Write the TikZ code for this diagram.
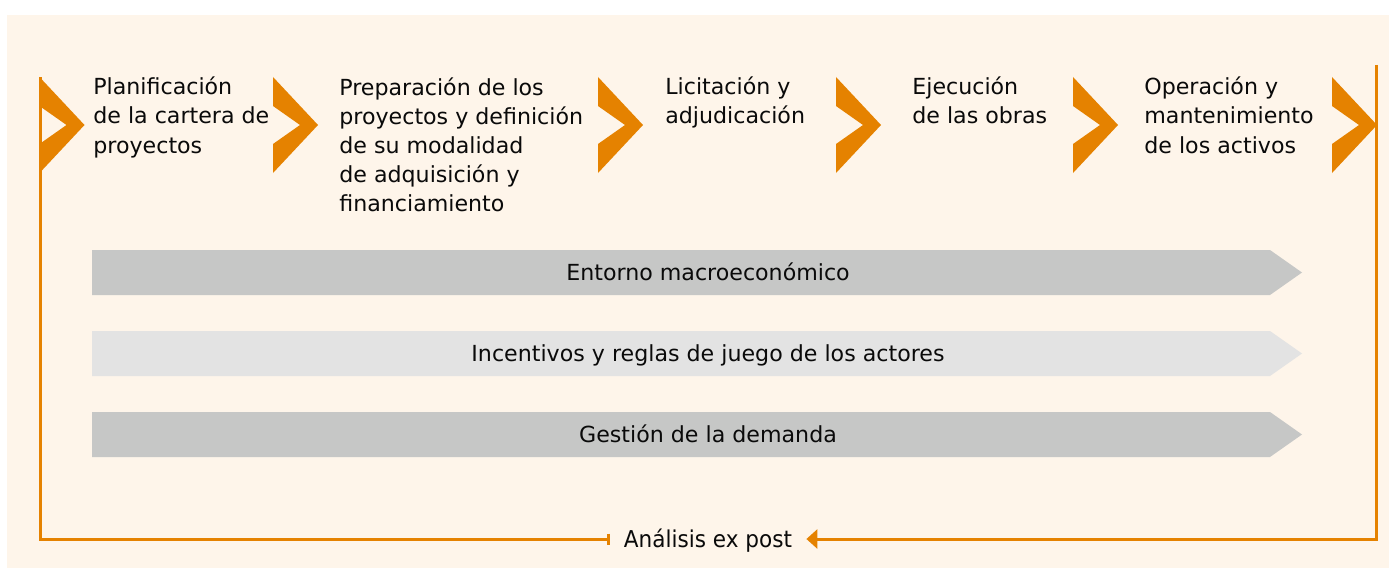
\documentclass[tikz,border=0pt]{standalone}
\usepackage{fontspec}
\setmainfont{DejaVu Sans}
\usetikzlibrary{arrows.meta}

\definecolor{cream}{HTML}{FEF5EA}
\definecolor{naranja}{HTML}{E58200}
\definecolor{grisos}{HTML}{C6C7C6}
\definecolor{grisclaro}{HTML}{E3E3E3}
\definecolor{tinta}{HTML}{0A0A0A}

\tikzset{
  chevron/.style={fill=naranja},
  stagetext/.style={anchor=base west, align=left, inner sep=0pt, text=tinta},
  bartext/.style={text height=9.2pt, text depth=0pt, inner sep=0pt, text=tinta},
  feedback/.style={draw=naranja, line width=0.6mm}
}

\begin{document}
\begin{tikzpicture}[font=\fontsize{12.6}{16.6}\selectfont, x=0.2mm, y=-0.2mm]

  \useasboundingbox (0,0) rectangle (1389,568);
  \fill[cream] (7,15) rectangle (1389,568);

  \foreach \cx in {39.5,273,598,836,1073,1332}
    \fill[chevron] (\cx,77) -- ++(45,48) -- ++(-45,48) -- ++(0,-29)
      -- ++(27,-19) -- ++(-27,-19) -- cycle;

  \node[stagetext] (plan) at (93,153.1) {Planificación\\de la cartera de\\proyectos};
  \node[stagetext] (prep) at (339,211.7) {Preparación de los\\proyectos y definición\\de su modalidad\\de adquisición y\\financiamiento};
  \node[stagetext] (lic)  at (665,123.8) {Licitación y\\adjudicación};
  \node[stagetext] (ejec) at (912,123.8) {Ejecución\\de las obras};
  \node[stagetext] (oper) at (1144,153.1) {Operación y\\mantenimiento\\de los activos};

  \foreach \yy/\col/\txt [count=\i] in {250/grisos/Entorno macroeconómico,
      331/grisclaro/Incentivos y reglas de juego de los actores,
      412/grisos/Gestión de la demanda}{
    \fill[\col] (92,\yy) -- (1270,\yy) -- (1302,\yy+22.5) -- (1270,\yy+45)
      -- (92,\yy+45) -- cycle;
    \node[bartext] (bar\i) at (708,\yy+22.5) {\txt};
  }

  \coordinate (inicio) at (40.8,77);
  \coordinate (fin) at (1376,65);
  \node[bartext, inner xsep=2.8mm, font=\fontsize{13.2}{15}\selectfont] (expost) at (708,539) {\scalebox{0.93}[1]{Análisis ex post}};

  \draw[feedback, {Bar[width=2.2mm]}-] (expost.west) -| (inicio);
  \draw[feedback, -{Triangle[length=2.2mm, width=3.8mm]}] (fin) |- (expost.east);
\end{tikzpicture}
\end{document}
